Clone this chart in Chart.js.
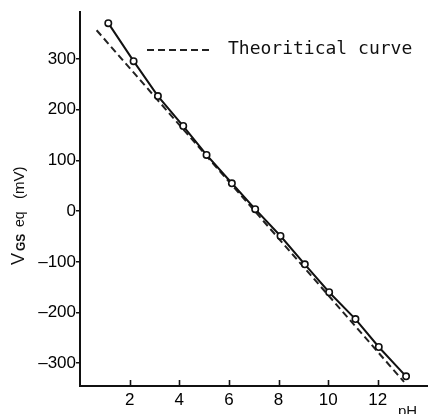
<!DOCTYPE html>
<html><head><meta charset="utf-8">
<script src="https://cdn.jsdelivr.net/npm/chart.js@4.4.0/dist/chart.umd.min.js"></script>
<style>html,body{margin:0;padding:0;background:#fff}#wrap{width:433px;height:414px;position:relative}</style>
</head><body><div id="wrap"><canvas id="c" width="433" height="414"></canvas></div>
<script>
// ---- data ----
const measuredPH = [1.14, 2.16, 3.14, 4.16, 5.10, 6.12, 7.06, 8.08, 9.06, 10.04, 11.10, 12.04, 13.14];
const measuredV  = [371, 296, 227, 168, 111, 55, 4, -49, -105, -160, -213, -268, -326];
const theoryPH = [0.67, 13.06];
const theoryV  = [357, -337];
const xTickValues = [2, 4, 6, 8, 10, 12];
const yTickValues = [-300, -200, -100, 0, 100, 200, 300];
const legendLabel = 'Theoritical curve';
const xUnit = 'pH';

const toPts = (xs, ys) => xs.map((x, i) => ({x: x, y: ys[i]}));

const annotations = {
  id: 'annot',
  afterDraw(chart) {
    const ctx = chart.ctx;
    const ds = chart.data.datasets[1];
    const xs = chart.scales.x;
    const area = chart.chartArea;
    ctx.save();
    // inward tick marks on the pH axis
    ctx.strokeStyle = '#111';
    ctx.lineWidth = 1.6;
    xs.ticks.forEach(t => {
      const px = Math.round(xs.getPixelForValue(t.value)) + 0.5;
      ctx.beginPath();
      ctx.moveTo(px, area.bottom);
      ctx.lineTo(px, area.bottom - 6);
      ctx.stroke();
    });
    // legend (dashed sample + label)
    ctx.strokeStyle = ds.borderColor;
    ctx.lineWidth = ds.borderWidth;
    ctx.setLineDash(ds.borderDash);
    ctx.beginPath();
    ctx.moveTo(147, 50);
    ctx.lineTo(212, 50);
    ctx.stroke();
    ctx.setLineDash([]);
    ctx.fillStyle = '#111';
    ctx.font = '18px "DejaVu Sans Mono"';
    ctx.textBaseline = 'middle';
    ctx.textAlign = 'left';
    ctx.fillText(ds.label, 228, 49);
    // x unit
    ctx.font = '15px "Liberation Sans"';
    ctx.textBaseline = 'alphabetic';
    ctx.fillText(xUnit, 398, 416);
    // y title with subscript
    ctx.translate(23.5, 265);
    ctx.rotate(-Math.PI / 2);
    ctx.font = '18px "Liberation Sans"';
    ctx.fillText('V', 0, 0);
    ctx.font = 'bold 12px "Liberation Sans"';
    ctx.fillText('GS', 14, 1);
    ctx.font = '14px "Liberation Sans"';
    ctx.fillText('eq', 38, 0);
    ctx.font = '15px "Liberation Sans"';
    ctx.fillText('(mV)', 66, 0);
    ctx.restore();
  }
};

new Chart(document.getElementById('c'), {
  type: 'scatter',
  data: {
    datasets: [
      {
        label: 'Measured',
        data: toPts(measuredPH, measuredV),
        showLine: true,
        borderColor: '#111',
        borderWidth: 2,
        pointRadius: 3.2,
        pointBorderWidth: 1.6,
        pointBackgroundColor: '#fff',
        pointBorderColor: '#111',
        tension: 0
      },
      {
        label: legendLabel,
        data: toPts(theoryPH, theoryV),
        showLine: true,
        borderColor: '#222',
        borderWidth: 2,
        borderDash: [7, 4],
        pointRadius: 0,
        tension: 0
      }
    ]
  },
  options: {
    responsive: false,
    animation: false,
    devicePixelRatio: 1,
    layout: {padding: {top: 12, right: 0, left: 0, bottom: 0}},
    plugins: {legend: {display: false}, tooltip: {enabled: false}},
    scales: {
      x: {
        type: 'linear', min: 0, max: 14,
        afterBuildTicks(s) { s.ticks = xTickValues.map(v => ({value: v})); },
        afterFit(s) { s.height = 28; },
        border: {display: true, color: '#111', width: 2},
        grid: {drawOnChartArea: false, drawTicks: false},
        ticks: {padding: 4, color: '#000', font: {family: 'Liberation Sans', size: 17}, maxRotation: 0, autoSkip: false}
      },
      y: {
        type: 'linear', min: -345, max: 393,
        afterBuildTicks(s) { s.ticks = yTickValues.map(v => ({value: v})); },
        afterFit(s) { s.width = 80; },
        border: {display: true, color: '#111', width: 2},
        grid: {drawOnChartArea: false, drawTicks: true, tickLength: 4, color: '#111', lineWidth: 1.5},
        ticks: {padding: 0, color: '#000', font: {family: 'Liberation Sans', size: 17},
          callback: v => v < 0 ? '\u2013' + Math.abs(v) : String(v)}
      }
    }
  },
  plugins: [annotations]
});
</script></body></html>
